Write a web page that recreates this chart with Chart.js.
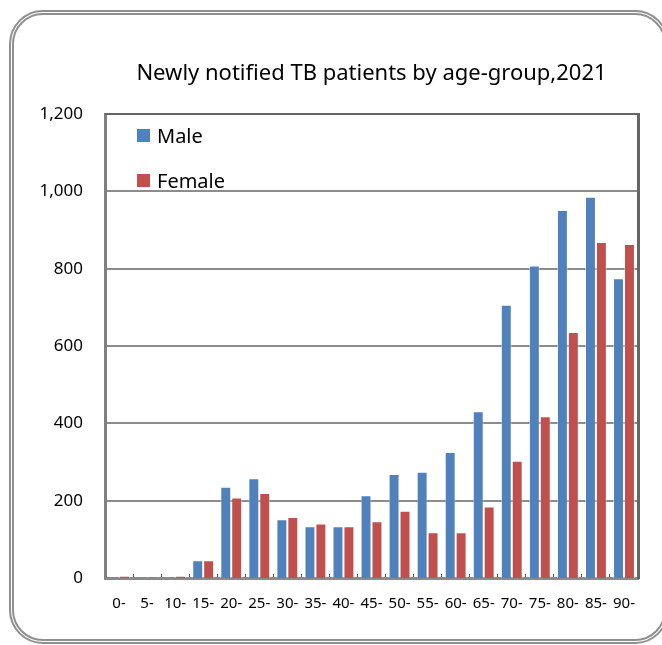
<!DOCTYPE html>
<html><head><meta charset="utf-8">
<script src="https://cdn.jsdelivr.net/npm/chart.js@4.4.1/dist/chart.umd.min.js"></script>
<style>
html,body{margin:0;padding:0;background:#fff;width:662px;height:645px;overflow:hidden}
#frame{position:absolute;left:9px;top:10px;width:660px;height:634px;box-sizing:border-box;border:5px double #8f8f8f;border-radius:34px}
#wrap{position:absolute;left:0;top:0;width:662px;height:645px}
</style></head><body>
<div id="frame"></div>
<div id="wrap"><canvas id="c" width="662" height="645"></canvas></div>
<script>
const chartTitle = 'Newly notified TB patients by age-group,2021';
const categories = ['0-','5-','10-','15-','20-','25-','30-','35-','40-','45-','50-','55-','60-','65-','70-','75-','80-','85-','90-'];
const maleValues   = [0, 0, 0, 46, 236, 258, 152, 134, 134, 214, 269, 275, 326, 431, 707, 808, 952, 986, 775];
const femaleValues = [6, 2, 6, 46, 208, 220, 158, 141, 134, 147, 174, 118, 118, 185, 303, 418, 636, 869, 864];
const yTicks = [0, 200, 400, 600, 800, 1000, 1200];
const seriesNames = ['Male', 'Female'];
const seriesColors = ['#4F81BD', '#C0504D'];

Chart.defaults.font.family = "'Noto Sans', sans-serif";
Chart.defaults.color = '#000';

const legendInside = {
  id: 'legendInside',
  afterDraw(chart) {
    const {ctx, chartArea} = chart;
    ctx.save();
    ctx.font = '20px "Noto Sans"';
    ctx.textBaseline = 'alphabetic';
    ctx.textAlign = 'left';
    chart.data.datasets.forEach((ds, i) => {
      const cy = chartArea.top + 21.5 + i * 45;
      ctx.fillStyle = ds.backgroundColor;
      ctx.fillRect(chartArea.left + 32, cy - 6.5, 13, 13);
      ctx.fillStyle = '#000';
      ctx.fillText(ds.label, chartArea.left + 52, cy + 7);
    });
    ctx.restore();
  }
};

const plotFrame = {
  id: 'plotFrame',
  afterDatasetsDraw(chart) {
    const {ctx, chartArea} = chart;
    ctx.save();
    ctx.strokeStyle = '#666';
    ctx.lineWidth = 3;
    ctx.beginPath();
    ctx.moveTo(chartArea.right + 0.5, chartArea.top - 1);
    ctx.lineTo(chartArea.right + 0.5, chartArea.bottom + 1);
    ctx.stroke();
    ctx.lineWidth = 2;
    ctx.beginPath();
    ctx.moveTo(chartArea.left, chartArea.top);
    ctx.lineTo(chartArea.right + 2, chartArea.top);
    ctx.stroke();
    ctx.restore();
  }
};

new Chart(document.getElementById('c'), {
  type: 'bar',
  data: {
    labels: categories,
    datasets: [
      {label: seriesNames[0], data: maleValues, backgroundColor: seriesColors[0],
       borderColor: 'rgba(255,255,255,0.45)', borderWidth: {top:1,left:1,right:1,bottom:0}, borderSkipped: false},
      {label: seriesNames[1], data: femaleValues, backgroundColor: seriesColors[1],
       borderColor: 'rgba(255,255,255,0.45)', borderWidth: {top:1,left:1,right:1,bottom:0}, borderSkipped: false}
    ]
  },
  options: {
    responsive: false,
    animation: false,
    devicePixelRatio: 1,
    layout: {padding: {left: 0, right: 24, top: 0, bottom: 0}},
    datasets: {bar: {categoryPercentage: 0.78, barPercentage: 1.0}},
    plugins: {
      legend: {display: false},
      tooltip: {enabled: false},
      title: {
        display: true, text: chartTitle, fullSize: false, color: '#000',
        font: {family: "'Noto Sans'", size: 22, weight: 'normal'},
        padding: {top: 61, bottom: 26.6}
      }
    },
    scales: {
      x: {
        afterFit(s) { s.height = 67; },
        grid: {offset: true, drawOnChartArea: false, drawTicks: true, tickLength: -4, color: '#555', lineWidth: 1},
        border: {display: true, color: '#8a8a8a', width: 3},
        ticks: {font: {size: 15}, color: '#000', padding: 21, maxRotation: 0, autoSkip: false}
      },
      y: {
        min: 0, max: 1200,
        afterFit(s) { s.width = 105; },
        afterBuildTicks(s) { s.ticks = yTicks.map(v => ({value: v})); },
        grid: {
          drawTicks: false,
          color: c => c.tick && c.tick.value === 1200 ? '#666' : '#8c8c8c',
          lineWidth: c => c.tick && c.tick.value === 0 ? 0 : 2
        },
        border: {display: true, color: '#808080', width: 3},
        ticks: {font: {size: 17}, color: '#000', padding: 22,
          callback: v => Number(v).toLocaleString('en-US')}
      }
    }
  },
  plugins: [legendInside, plotFrame]
});
</script>
</body></html>
